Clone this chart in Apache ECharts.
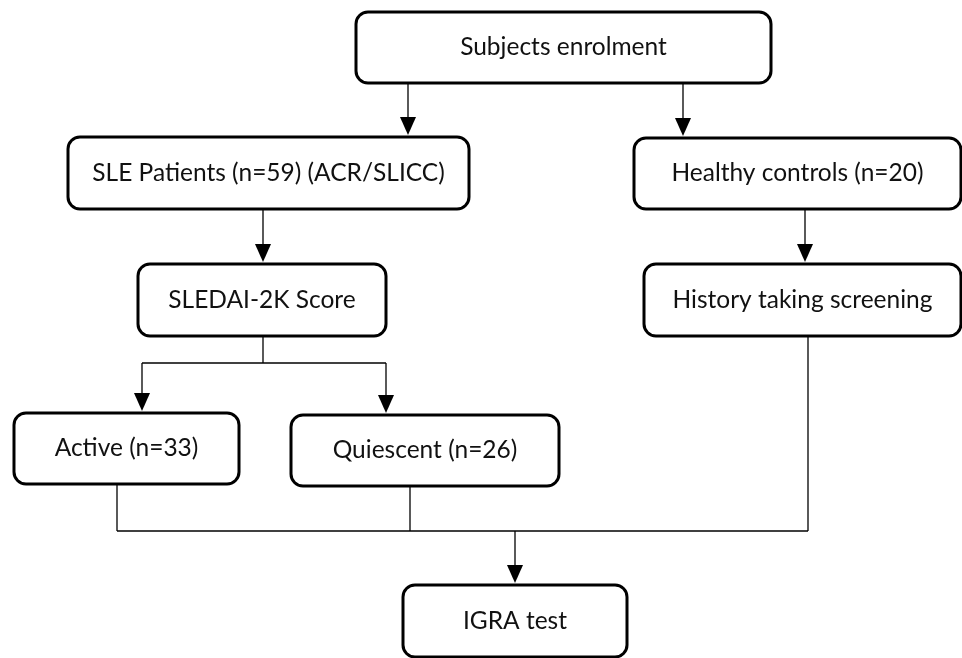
<!DOCTYPE html>
<html>
<head>
<meta charset="utf-8">
<title>Study flowchart</title>
<script src="https://cdn.jsdelivr.net/npm/echarts@6/dist/echarts.min.js"></script>
<style>
  html, body { margin: 0; padding: 0; background: #fff; }
  #chart { width: 962px; height: 658px; }
</style>
</head>
<body>
<div id="chart"></div>
<script>
// flowchart boxes, in page units (x to the right, y downwards)
const labels = [
  "Subjects enrolment",
  "SLE Patients (n=59) (ACR/SLICC)",
  "Healthy controls (n=20)",
  "SLEDAI-2K Score",
  "History taking screening",
  "Active (n=33)",
  "Quiescent (n=26)",
  "IGRA test",
];
const boxLeft = [356, 68, 634, 138, 644, 14, 291, 403];
const boxTop = [12, 137, 138, 264, 264, 413, 415, 585];
const boxRight = [771, 469, 961, 386, 961, 239, 559, 627];
const boxBottom = [83, 209, 209, 336, 336, 484, 486, 657];

// plain connector segments
const lineX1 = [263, 142, 117, 410, 808, 117];
const lineY1 = [336, 363, 484, 486, 336, 531];
const lineX2 = [263, 386, 117, 410, 808, 808];
const lineY2 = [363, 363, 531, 531, 531, 531];

// arrows (start -> tip)
const arrowX = [408, 683, 263, 805, 142, 386, 515];
const arrowFrom = [83, 83, 209, 209, 363, 363, 531];
const arrowTo = [135, 136, 262, 262, 411, 413, 583];

const chart = echarts.init(document.getElementById("chart"));

const boxData = labels.map((t, i) => [boxLeft[i], boxTop[i], boxRight[i], boxBottom[i], i]);
const lineData = lineX1.map((x, i) => [x, lineY1[i], lineX2[i], lineY2[i]]);
const arrowData = arrowX.map((x, i) => [x, arrowFrom[i], arrowTo[i]]);

chart.setOption({
  animation: false,
  grid: { left: 0, right: 0, top: 0, bottom: 0 },
  xAxis: { type: "value", min: 0, max: 962, show: false },
  yAxis: { type: "value", min: 0, max: 658, inverse: true, show: false },
  series: [
    {
      type: "custom",
      data: lineData,
      renderItem(params, api) {
        const a = api.coord([api.value(0), api.value(1)]);
        const b = api.coord([api.value(2), api.value(3)]);
        return {
          type: "line",
          shape: { x1: a[0], y1: a[1], x2: b[0], y2: b[1] },
          style: { stroke: "#000", lineWidth: 1.3 },
        };
      },
    },
    {
      type: "custom",
      data: arrowData,
      renderItem(params, api) {
        const a = api.coord([api.value(0), api.value(1)]);
        const b = api.coord([api.value(0), api.value(2)]);
        return {
          type: "group",
          children: [
            {
              type: "line",
              shape: { x1: a[0], y1: a[1], x2: b[0], y2: b[1] - 16 },
              style: { stroke: "#000", lineWidth: 1.3 },
            },
            {
              type: "polygon",
              shape: { points: [[b[0] - 8, b[1] - 18], [b[0] + 8, b[1] - 18], [b[0], b[1]]] },
              style: { fill: "#000" },
            },
          ],
        };
      },
    },
    {
      type: "custom",
      data: boxData,
      renderItem(params, api) {
        const p1 = api.coord([api.value(0), api.value(1)]);
        const p2 = api.coord([api.value(2), api.value(3)]);
        const i = api.value(4);
        return {
          type: "group",
          children: [
            {
              type: "rect",
              shape: { x: p1[0], y: p1[1], width: p2[0] - p1[0], height: p2[1] - p1[1], r: 12 },
              style: { fill: "#fff", stroke: "#000", lineWidth: 3 },
            },
            {
              type: "text",
              style: {
                text: labels[i],
                x: (p1[0] + p2[0]) / 2,
                y: (p1[1] + p2[1]) / 2,
                align: "center",
                verticalAlign: "middle",
                font: "24.5px Lato",
                fill: "#111",
              },
            },
          ],
        };
      },
    },
  ],
});
</script>
</body>
</html>
